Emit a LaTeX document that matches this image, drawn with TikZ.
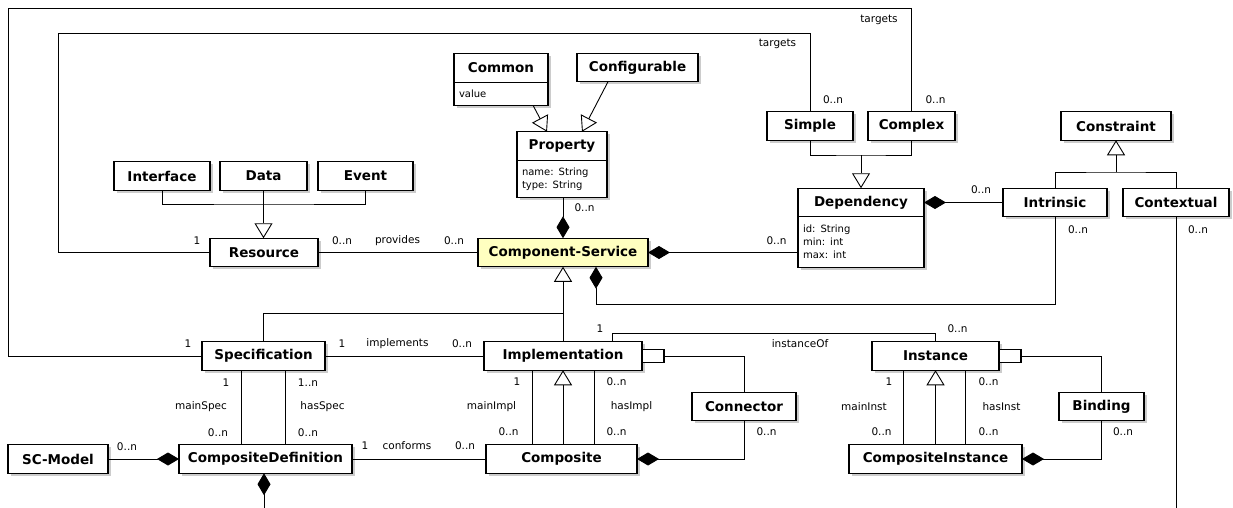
\documentclass[tikz,border=0pt]{standalone}
\usepackage{fontspec}
\setmainfont{DejaVu Sans}
\usetikzlibrary{arrows.meta,shadows}

\definecolor{csyellow}{HTML}{FFFFC0}

\tikzset{
  umlclass/.style={draw, line width=1.1pt, fill=white, inner sep=0pt, outer sep=0pt,
    minimum height=28.5pt, font=\fontsize{13.5}{16}\selectfont\bfseries,
    drop shadow={shadow xshift=2.5pt, shadow yshift=-2.5pt, fill=black!20, opacity=1}},
  umlattrs/.style={umlclass, anchor=north, align=left, inner xsep=5pt, minimum height=0pt,
    font=\fontsize{10}{13}\selectfont},
  qualifier/.style={draw, line width=1.1pt, fill=white, inner sep=0pt, outer sep=0pt,
    minimum width=22pt, minimum height=13pt, anchor=west},
  assoc/.style={line width=0.9pt},
  gen/.style={assoc, -{Triangle[open, fill=white, length=15pt, width=18pt]}},
  comp/.style={assoc, -{Diamond[length=22pt, width=13pt]}},
  mult/.style={font=\fontsize{10.5}{12}\selectfont, inner sep=0.5pt},
}

\begin{document}
\begin{tikzpicture}[x=1pt, y=-1pt]
\useasboundingbox (0,0) rectangle (1233,508);

% properties
\node[umlclass, minimum width=94, minimum height=29.5] (common) at (501,68) {Common};
\node[umlattrs, text width=84, minimum height=22.5] (commonattr) at (common.south) {value};
\node[umlclass, minimum width=121] (config) at (637.5,67.5) {Configurable};
\node[umlclass, minimum width=90] (prop) at (562,146) {Property};
\node[umlattrs, text width=80, minimum height=37] (propattr) at (prop.south) {name: String\\type: String};

% resources
\node[umlclass, minimum width=96] (iface) at (162,176) {Interface};
\node[umlclass, minimum width=87] (data) at (263.5,176) {Data};
\node[umlclass, minimum width=95] (event) at (365.5,176) {Event};
\node[umlclass, minimum width=108] (resource) at (264,252.5) {Resource};
\node[umlclass, minimum width=170, fill=csyellow] (cs) at (563,252.5) {Component-Service};

% dependencies and constraints
\node[umlclass, minimum width=86] (simple) at (810,126) {Simple};
\node[umlclass, minimum width=87] (complex) at (911.5,126) {Complex};
\node[umlclass, minimum width=126] (dep) at (861,202.5) {Dependency};
\node[umlattrs, text width=116, minimum height=51] (depattr) at (dep.south) {id: String\\min: int\\max: int};
\node[umlclass, minimum width=110] (constraint) at (1116,126) {Constraint};
\node[umlclass, minimum width=104] (intrinsic) at (1055,202.5) {Intrinsic};
\node[umlclass, minimum width=106] (contextual) at (1176,202.5) {Contextual};

% specification / implementation / instance
\node[umlclass, minimum width=123] (spec) at (263.5,356) {Specification};
\node[umlclass, minimum width=158] (impl) at (563,356) {Implementation};
\node[umlclass, minimum width=127] (inst) at (935.5,356) {Instance};
\node[qualifier] (implq) at (impl.east) {};
\node[qualifier] (instq) at (inst.east) {};
\node[umlclass, minimum width=104] (conn) at (744,406.5) {Connector};
\node[umlclass, minimum width=85] (binding) at (1101.5,406.5) {Binding};

% composites
\node[umlclass, minimum width=100] (scmodel) at (58,459) {SC-Model};
\node[umlclass, minimum width=173] (compdef) at (265.5,459) {CompositeDefinition};
\node[umlclass, minimum width=151] (composite) at (561.5,459) {Composite};
\node[umlclass, minimum width=173] (compinst) at (935.5,459) {CompositeInstance};

% corners and free ends
\coordinate (outer) at (8,8);
\coordinate (inner) at (58,33);
\coordinate (resbus) at (264,204);
\coordinate (depbus) at (861,155);
\coordinate (conbus) at (1116,172);
\coordinate (csbus) at (563,313);
\coordinate (intbus) at (1055,304);
\coordinate (ofbus) at (612,333);
\coordinate (ctxend) at (1176,508);
\coordinate (cdend) at (264,508);

% targets
\draw[assoc] (spec.west) -| (outer) -| (complex.north);
\draw[assoc] (resource.west) -| (inner) -| (simple.north);
\node[mult] (outertargets) at (879,20) {targets};
\node[mult] (innertargets) at (777.5,44) {targets};
\node[mult] (simplemult) at (833,100) {0..n};
\node[mult] (complexmult) at (935.5,100) {0..n};
\node[mult] (specone) at (188,344) {1};
\node[mult] (resone) at (197,241) {1};

% generalisations
\draw[assoc] (iface.south) |- (resbus) -| (event.south);
\draw[gen] (data.south) -- (data.south |- resource.north);
\draw[gen] ([xshift=32]commonattr.south) -- ([xshift=-15]prop.north);
\draw[gen] ([xshift=-29.5]config.south) -- ([xshift=20]prop.north);
\draw[assoc] (simple.south) |- (depbus) -| (complex.south);
\draw[gen] (depbus) -- (dep.north);
\draw[assoc] (intrinsic.north) |- (conbus) -| (contextual.north);
\draw[gen] (conbus) -- (constraint.south);
\draw[assoc] (spec.north) |- (csbus);
\draw[gen] (impl.north) -- (cs.south);

% compositions round the component-service
\draw[comp] (propattr.south -| cs.north) -- (cs.north);
\node[mult] (propmult) at (584.5,208) {0..n};
\draw[comp] (depattr.west |- cs.east) -- (cs.east);
\node[mult] (depmult) at (776.5,241) {0..n};
\draw[comp] (intrinsic.west) -- (dep.east);
\node[mult] (intdepmult) at (981,190) {0..n};
\draw[comp] (intrinsic.south) -- (intbus) -| ([xshift=33]cs.south);
\node[mult] (intmult) at (1078,230) {0..n};
\draw[assoc] (contextual.south) -- (ctxend);
\node[mult] (ctxmult) at (1198,230) {0..n};

% provides
\draw[assoc] (resource.east) -- (cs.west);
\node[mult] (provmultl) at (342,241) {0..n};
\node[mult] (provides) at (397.5,241) {provides};
\node[mult] (provmultr) at (454,241) {0..n};

% implements
\draw[assoc] (spec.east) -- (impl.west);
\node[mult] (implone) at (342,344) {1};
\node[mult] (implements) at (397.5,344) {implements};
\node[mult] (implmult) at (462,344) {0..n};

% instanceOf
\draw[assoc] (impl.north -| ofbus) -- (ofbus) -| (inst.north);
\node[mult] (ofone) at (600,329) {1};
\node[mult] (instanceof) at (800,344) {instanceOf};
\node[mult] (ofmult) at (957.5,329) {0..n};

% specification -- composite definition
\draw[assoc] ([xshift=-22.5]spec.south) -- ([xshift=-22.5]spec.south |- compdef.north);
\draw[assoc] ([xshift=21.5]spec.south) -- ([xshift=21.5]spec.south |- compdef.north);
\node[mult] (msone) at (226,383) {1};
\node[mult] (mainspec) at (201,407) {mainSpec};
\node[mult] (msmult) at (218,433) {0..n};
\node[mult] (hsone) at (308,383) {1..n};
\node[mult] (hasspec) at (322.5,407) {hasSpec};
\node[mult] (hsmult) at (308,433) {0..n};

% implementation -- composite
\draw[assoc] ([xshift=-31]impl.south) -- ([xshift=-31]impl.south |- composite.north);
\draw[gen] (impl.south |- composite.north) -- (impl.south);
\draw[assoc] ([xshift=31]impl.south) -- ([xshift=31]impl.south |- composite.north);
\node[mult] (mione) at (517,382) {1};
\node[mult] (mainimpl) at (491.5,407) {mainImpl};
\node[mult] (mimult) at (508.5,432) {0..n};
\node[mult] (himultt) at (616.5,382) {0..n};
\node[mult] (hasimpl) at (631.5,407) {hasImpl};
\node[mult] (himultb) at (616.5,432) {0..n};
\draw[assoc] (implq.east) -| (conn.north);
\draw[comp] (conn.south) |- (composite.east);
\node[mult] (connmult) at (766.5,432) {0..n};

% instance -- composite instance
\draw[assoc] ([xshift=-32.5]inst.south) -- ([xshift=-32.5]inst.south |- compinst.north);
\draw[gen] (inst.south |- compinst.north) -- (inst.south);
\draw[assoc] ([xshift=29.5]inst.south) -- ([xshift=29.5]inst.south |- compinst.north);
\node[mult] (mitone) at (889,382) {1};
\node[mult] (maininst) at (864,407) {mainInst};
\node[mult] (mitmult) at (881.5,432) {0..n};
\node[mult] (hitmultt) at (988.5,382) {0..n};
\node[mult] (hasinst) at (1001.5,407) {hasInst};
\node[mult] (hitmultb) at (988.5,432) {0..n};
\draw[assoc] (instq.east) -| (binding.north);
\draw[comp] (binding.south) |- (compinst.east);
\node[mult] (bindmult) at (1123,432) {0..n};

% composite definition
\draw[comp] (scmodel.east) -- (compdef.west);
\node[mult] (scmult) at (127,447) {0..n};
\draw[assoc] (compdef.east) -- (composite.west);
\node[mult] (cfone) at (365,446) {1};
\node[mult] (conforms) at (407,446) {conforms};
\node[mult] (cfmult) at (465,446) {0..n};
\draw[comp] (cdend) -- (cdend |- compdef.south);

\end{tikzpicture}
\end{document}
